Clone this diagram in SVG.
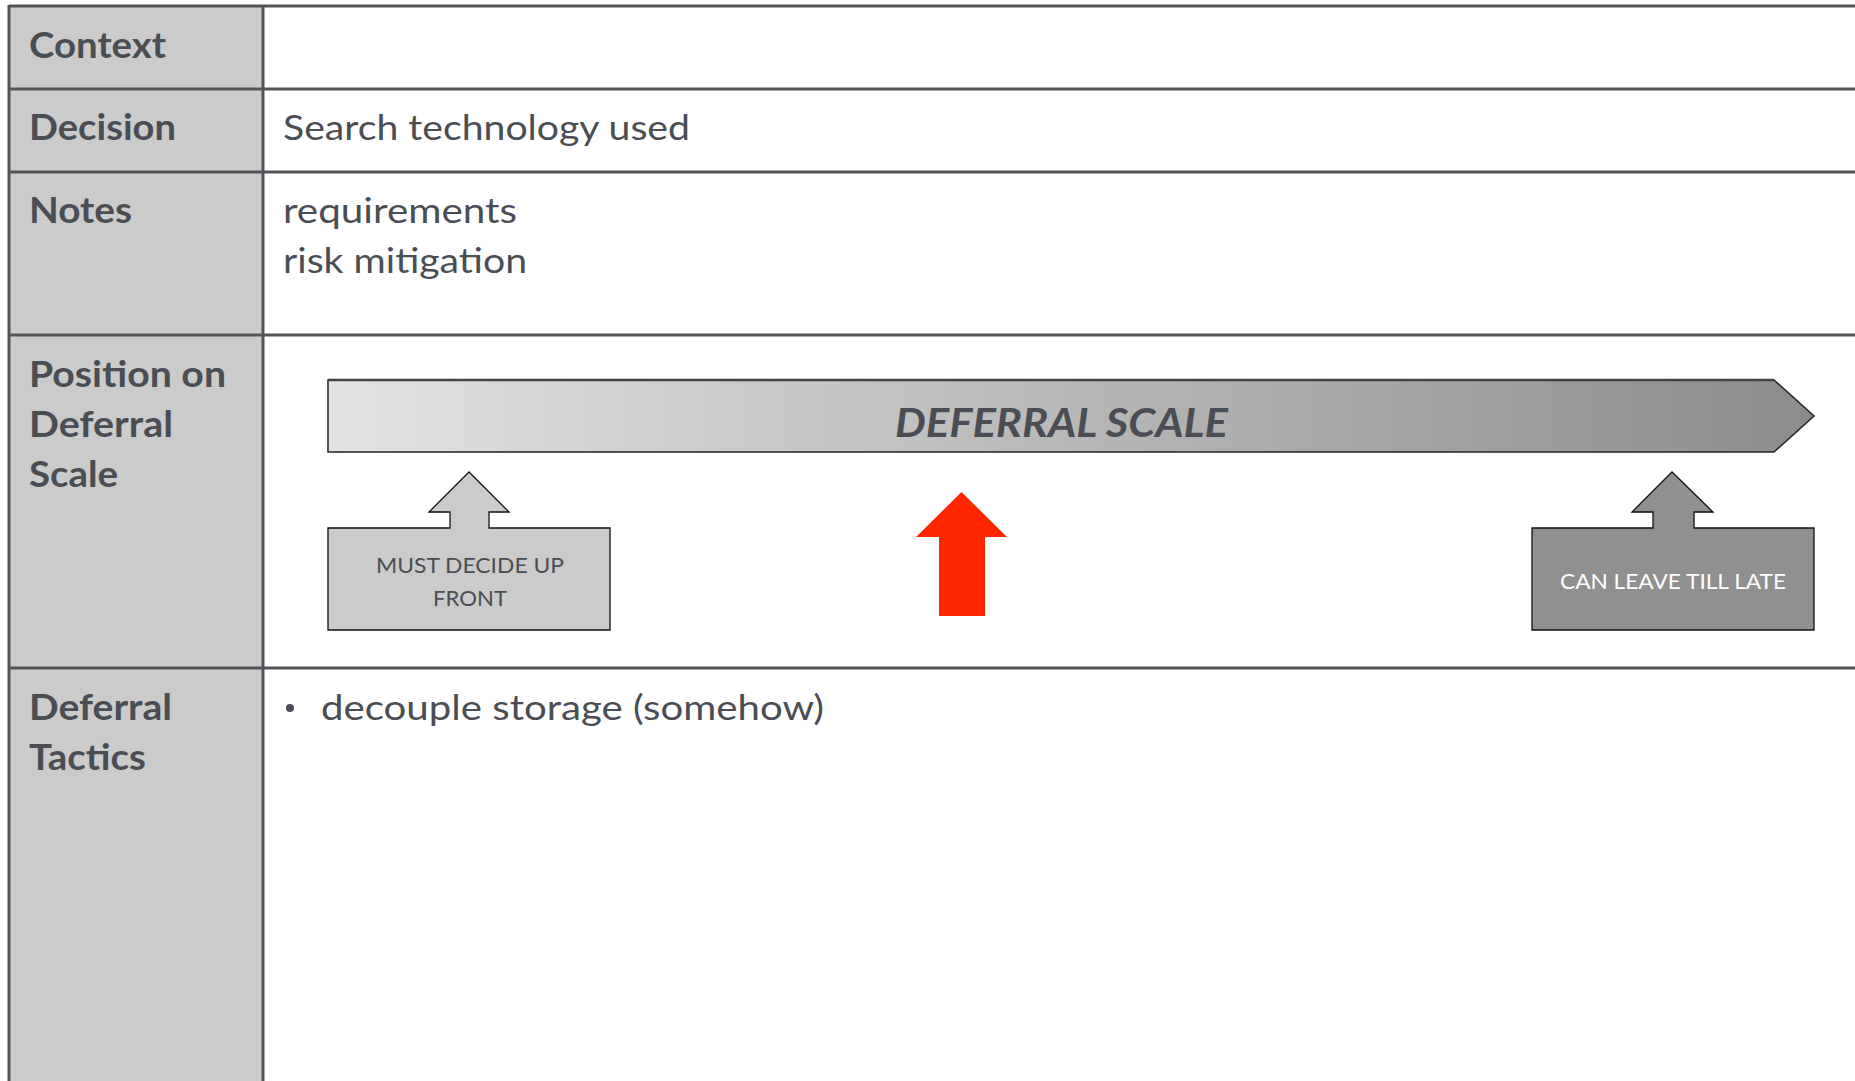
<svg xmlns="http://www.w3.org/2000/svg" width="1855" height="1081" viewBox="0 0 1855 1081">
  <defs>
    <linearGradient id="scaleGrad" x1="0" y1="0" x2="1" y2="0">
      <stop offset="0" stop-color="#e3e3e3"/>
      <stop offset="1" stop-color="#8c8c8c"/>
    </linearGradient>
    <style>
      .grid { stroke: #505459; stroke-width: 3; fill: none; }
      .lbl { font-family: "Lato", "Liberation Sans", sans-serif; font-weight: bold; font-size: 36px; fill: #4a4e54; }
      .val { font-family: "Lato", "Liberation Sans", sans-serif; font-size: 35px; fill: #4a4e54; }
      .call { font-family: "Lato", "Liberation Sans", sans-serif; font-size: 22px; }
      .scale { font-family: "Lato", "Liberation Sans", sans-serif; font-weight: bold; font-style: italic; font-size: 40px; fill: #4a4e54; }
      .shape { stroke: #111; stroke-width: 1.3; }
    </style>
  </defs>
  <rect width="1855" height="1081" fill="#ffffff"/>

  <g id="table">
    <rect x="9" y="6" width="254" height="1080" fill="#cbcbcb"/>
    <line class="grid" x1="9" y1="6" x2="1855" y2="6"/>
    <line class="grid" x1="9" y1="89" x2="1855" y2="89"/>
    <line class="grid" x1="9" y1="172" x2="1855" y2="172"/>
    <line class="grid" x1="9" y1="335" x2="1855" y2="335"/>
    <line class="grid" x1="9" y1="668" x2="1855" y2="668"/>
    <line class="grid" x1="9" y1="5" x2="9" y2="1081"/>
    <line class="grid" x1="263" y1="5" x2="263" y2="1081"/>
  </g>

  <g id="row-context">
    <text class="lbl" x="29" y="58" textLength="137" lengthAdjust="spacingAndGlyphs">Context</text>
  </g>
  <g id="row-decision">
    <text class="lbl" x="29" y="140" textLength="147" lengthAdjust="spacingAndGlyphs">Decision</text>
    <text class="val" x="283" y="140" textLength="407" lengthAdjust="spacingAndGlyphs">Search technology used</text>
  </g>
  <g id="row-notes">
    <text class="lbl" x="29" y="223" textLength="103" lengthAdjust="spacingAndGlyphs">Notes</text>
    <text class="val" x="283" y="223" textLength="234" lengthAdjust="spacingAndGlyphs">requirements</text>
    <text class="val" x="283" y="273" textLength="244" lengthAdjust="spacingAndGlyphs">risk mitigation</text>
  </g>
  <g id="row-position">
    <text class="lbl" x="29" y="387" textLength="197" lengthAdjust="spacingAndGlyphs">Position on</text>
    <text class="lbl" x="29" y="437" textLength="144" lengthAdjust="spacingAndGlyphs">Deferral</text>
    <text class="lbl" x="29" y="487" textLength="89" lengthAdjust="spacingAndGlyphs">Scale</text>
  </g>
  <g id="row-tactics">
    <text class="lbl" x="29" y="720" textLength="143" lengthAdjust="spacingAndGlyphs">Deferral</text>
    <text class="lbl" x="29" y="770" textLength="117" lengthAdjust="spacingAndGlyphs">Tactics</text>
    <circle cx="290" cy="708" r="4" fill="#4a4e54"/>
    <text class="val" x="321" y="720" textLength="503" lengthAdjust="spacingAndGlyphs">decouple storage (somehow)</text>
  </g>

  <g id="deferral-scale">
    <path d="M328,380 L1774,380 L1814,416 L1774,452 L328,452 Z" fill="url(#scaleGrad)" stroke="#222" stroke-width="1.5"/>
    <line x1="328" y1="380" x2="1774" y2="380" stroke="#444" stroke-width="2.5"/>
    <text class="scale" x="895" y="437" textLength="333" lengthAdjust="spacingAndGlyphs">DEFERRAL SCALE</text>
  </g>

  <g id="must-decide">
    <path class="shape" d="M328,528 L450,528 L450,512 L429,512 L469,472 L509,512 L489,512 L489,528 L610,528 L610,630 L328,630 Z" fill="#cbcbcb"/>
    <text class="call" x="376" y="573" fill="#4a4e54" textLength="188" lengthAdjust="spacingAndGlyphs">MUST DECIDE UP</text>
    <text class="call" x="433" y="606" fill="#4a4e54" textLength="74" lengthAdjust="spacingAndGlyphs">FRONT</text>
  </g>

  <g id="current-position">
    <path d="M961.5,492 L1007,537 L985,537 L985,616 L939,616 L939,537 L916,537 Z" fill="#ff2600"/>
  </g>

  <g id="can-leave">
    <path class="shape" d="M1532,528 L1653,528 L1653,512 L1632,512 L1672,472 L1713,512 L1694,512 L1694,528 L1814,528 L1814,630 L1532,630 Z" fill="#909090"/>
    <text class="call" x="1560" y="589" fill="#ffffff" textLength="226" lengthAdjust="spacingAndGlyphs">CAN LEAVE TILL LATE</text>
  </g>
</svg>
